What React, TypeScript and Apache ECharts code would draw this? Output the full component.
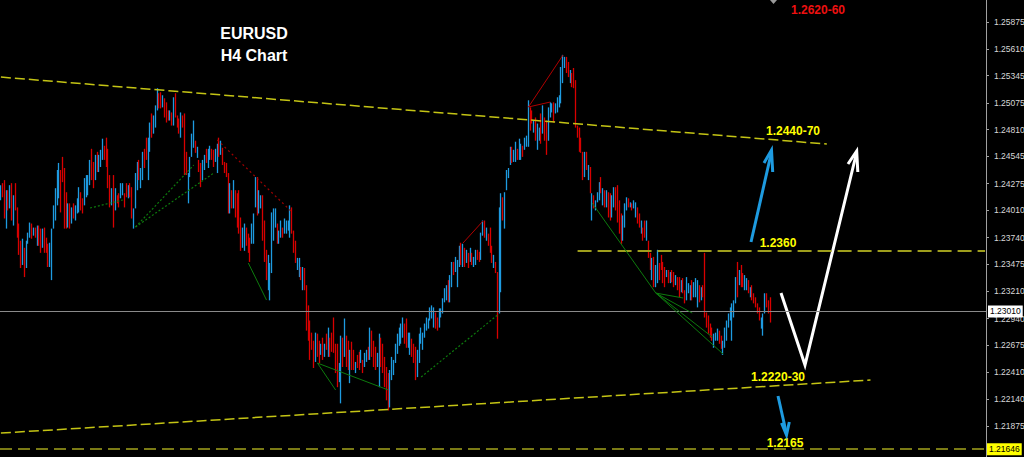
import React, { useEffect, useRef } from "react";
import * as echarts from "echarts";

// H4 candles, each [open, close, low, high] in 1e-4 price units (12413 = 1.2413)
const candlesA: number[][] = [
  [12413,12424,12411,12426],[12426,12416,12414,12428],[12426,12398,12393,12431],[12388,12416,12383,12421],[12418,12404,12401,12421],
  [12406,12423,12403,12426],[12423,12396,12391,12428],[12389,12413,12386,12416],[12424,12405,12401,12428],[12401,12377,12374,12404],
  [12384,12361,12357,12388],[12368,12347,12344,12371],[12350,12370,12347,12373],[12361,12338,12335,12364],[12347,12368,12344,12371],
  [12370,12377,12368,12379],[12376,12387,12374,12389],[12386,12375,12373,12388],[12377,12383,12376,12384],[12382,12376,12374,12384],
  [12369,12383,12366,12386],[12383,12369,12366,12386],[12380,12362,12359,12383],[12367,12380,12364,12383],[12381,12362,12359,12384],
  [12372,12361,12359,12374],[12365,12348,12345,12368],[12348,12366,12345,12369],[12348,12378,12332,12383],[12386,12403,12383,12406],
  [12395,12419,12391,12423],[12410,12437,12406,12441],[12417,12444,12413,12448],[12437,12404,12399,12441],[12451,12432,12429,12454],
  [12436,12390,12383,12443],[12415,12387,12383,12419],[12387,12405,12384,12408],[12405,12386,12383,12408],[12390,12402,12388,12404],
  [12406,12395,12393,12408],[12393,12404,12391,12406],[12400,12411,12398,12413],[12402,12421,12399,12424],[12417,12403,12401,12419],
  [12411,12400,12398,12413],[12409,12430,12406,12433],[12417,12433,12414,12436],[12418,12433,12416,12436],[12429,12448,12426,12451],
  [12458,12435,12431,12462],[12446,12426,12423,12449],[12434,12453,12431,12456],[12457,12442,12439,12459],[12441,12454,12439,12456],
  [12446,12459,12444,12461],[12454,12469,12451,12472],[12463,12453,12451,12465],[12469,12448,12444,12473],[12457,12428,12423,12462],
  [12432,12408,12404,12436],[12408,12421,12406,12423],[12430,12390,12384,12436],[12404,12420,12401,12423],[12415,12409,12408,12416],
  [12416,12406,12404,12418],[12415,12426,12413,12428],[12418,12426,12416,12428],[12416,12406,12404,12418],[12426,12416,12414,12428],
  [12415,12424,12413,12426],
];
const candlesB: number[][] = [
  [12426,12416,12414,12428],[12420,12397,12393,12424],[12386,12400,12383,12403],[12407,12434,12403,12438],[12424,12446,12421,12449],
  [12449,12433,12431,12451],[12426,12440,12423,12443],[12434,12456,12431,12459],[12460,12445,12443,12462],[12470,12454,12451,12473],
  [12436,12468,12431,12473],[12463,12484,12459,12488],[12494,12476,12473,12497],[12479,12493,12477,12495],[12486,12502,12483,12505],
  [12503,12519,12500,12522],[12515,12504,12502,12517],[12516,12504,12502,12518],[12505,12513,12503,12515],[12510,12496,12493,12512],
  [12505,12491,12488,12508],[12498,12492,12490,12500],[12492,12498,12490,12500],[12496,12487,12485,12498],[12488,12509,12485,12513],
  [12514,12496,12493,12517],[12493,12485,12483,12495],[12490,12479,12477,12492],[12476,12495,12473,12498],[12493,12485,12483,12495],
  [12492,12441,12436,12497],[12456,12439,12436,12459],[12412,12434,12408,12438],[12436,12451,12434,12454],[12457,12474,12454,12477],
  [12466,12486,12463,12490],[12468,12460,12458,12470],[12455,12462,12453,12464],[12449,12441,12439,12451],[12445,12427,12424,12448],
  [12434,12448,12431,12451],[12443,12454,12441,12456],[12460,12450,12448,12462],[12446,12459,12443,12462],[12453,12463,12451,12465],
  [12460,12453,12451,12462],[12459,12446,12444,12461],[12451,12460,12449,12462],[12442,12463,12438,12467],[12471,12457,12454,12473],
  [12458,12468,12456,12470],[12461,12448,12446,12463],[12447,12440,12438,12449],[12446,12436,12434,12448],[12433,12403,12398,12438],
  [12402,12424,12398,12428],[12419,12405,12403,12421],[12406,12428,12403,12431],[12418,12397,12394,12421],[12414,12388,12384,12418],
  [12416,12383,12378,12421],[12390,12365,12361,12394],[12367,12381,12364,12384],[12364,12385,12361,12388],[12382,12368,12366,12384],
  [12376,12361,12359,12378],[12371,12353,12350,12374],[12370,12385,12368,12388],[12372,12394,12368,12398],[12408,12430,12404,12434],
  [12429,12401,12396,12434],[12401,12418,12398,12421],[12405,12414,12403,12416],
];
const candlesC: number[][] = [
  [12411,12376,12371,12416],[12386,12355,12350,12391],[12359,12335,12332,12362],[12326,12353,12322,12357],[12320,12345,12312,12349],
  [12345,12393,12339,12399],[12375,12399,12371,12403],[12386,12401,12384,12403],[12386,12370,12368,12388],[12370,12379,12368,12381],
  [12376,12389,12374,12391],[12382,12376,12374,12384],[12380,12391,12378,12393],[12380,12389,12378,12391],[12382,12390,12381,12391],
  [12378,12402,12374,12406],[12401,12381,12378,12404],[12378,12362,12359,12381],[12368,12352,12349,12371],[12344,12352,12342,12354],
  [12337,12351,12335,12354],[12343,12334,12332,12345],[12325,12342,12322,12345],[12341,12325,12322,12344],[12324,12287,12282,12327],
  [12302,12276,12272,12307],[12287,12258,12253,12292],[12278,12265,12263,12280],[12269,12248,12245,12272],[12254,12276,12251,12280],
  [12276,12259,12256,12279],[12270,12253,12250,12272],[12260,12267,12258,12269],[12272,12256,12253,12275],[12258,12267,12256,12269],
  [12277,12265,12263,12279],[12260,12281,12256,12285],[12273,12258,12256,12275],[12278,12263,12261,12280],[12291,12264,12260,12295],
  [12265,12244,12240,12269],[12263,12232,12226,12269],[12233,12247,12231,12250],[12245,12272,12210,12277],[12272,12249,12246,12275],
  [12260,12290,12256,12294],[12274,12249,12246,12277],[12269,12246,12243,12272],[12234,12259,12230,12263],[12268,12246,12243,12271],
  [12261,12245,12243,12263],[12242,12249,12240,12251],[12256,12247,12245,12258],[12259,12245,12243,12261],[12252,12261,12250,12263],
  [12251,12242,12240,12253],[12248,12258,12246,12260],[12253,12261,12251,12263],[12264,12255,12253,12266],[12257,12281,12253,12285],
  [12279,12259,12256,12282],[12269,12249,12246,12272],[12263,12246,12243,12266],[12248,12258,12246,12260],[12232,12273,12226,12279],
  [12272,12249,12246,12275],[12266,12243,12240,12269],[12253,12230,12226,12256],[12243,12217,12213,12246],[12236,12208,12203,12240],
];
const candlesD: number[][] = [
  [12210,12240,12206,12243],[12236,12253,12233,12256],[12240,12251,12238,12253],[12252,12267,12250,12269],[12262,12276,12259,12279],
  [12269,12283,12267,12285],[12272,12286,12269,12289],[12278,12292,12275,12295],[12286,12272,12269,12289],[12290,12269,12265,12294],
  [12267,12278,12265,12280],[12261,12277,12258,12280],[12272,12258,12256,12274],[12267,12252,12250,12269],[12262,12237,12233,12266],
  [12239,12260,12236,12263],[12254,12275,12250,12279],[12271,12283,12269,12285],[12265,12278,12263,12280],[12277,12287,12275,12289],
  [12284,12293,12282,12295],[12286,12292,12284,12294],[12294,12303,12292,12305],[12296,12305,12294,12307],[12288,12302,12285,12305],
  [12298,12286,12284,12300],[12293,12284,12282,12295],[12287,12302,12285,12304],[12296,12303,12295,12304],[12301,12312,12299,12314],
  [12312,12322,12310,12324],[12314,12325,12312,12327],[12329,12313,12310,12332],[12313,12334,12310,12337],[12328,12347,12325,12350],
  [12348,12339,12337,12350],[12342,12353,12340,12355],[12329,12349,12325,12352],[12348,12363,12345,12366],[12366,12350,12347,12369],
  [12348,12365,12345,12368],[12362,12347,12345,12364],[12351,12360,12349,12362],[12357,12346,12344,12359],[12352,12362,12350,12364],
  [12357,12349,12347,12359],[12347,12353,12345,12355],[12349,12360,12347,12362],[12360,12354,12352,12362],[12358,12352,12350,12360],
  [12355,12376,12352,12379],[12378,12389,12376,12391],[12389,12377,12374,12391],[12373,12382,12371,12384],[12376,12368,12366,12378],
  [12381,12362,12359,12384],[12364,12351,12349,12366],[12346,12355,12344,12357],[12348,12341,12339,12350],[12339,12300,12274,12340],
  [12300,12398,12299,12404],[12330,12412,12320,12418],[12411,12394,12391,12414],[12394,12415,12383,12419],[12423,12438,12421,12441],
  [12435,12441,12433,12443],[12448,12461,12446,12464],[12462,12450,12448,12464],[12451,12459,12449,12461],[12452,12466,12449,12469],
  [12460,12453,12451,12462],[12454,12469,12451,12472],
];
const candlesE: number[][] = [
  [12453,12465,12451,12467],[12463,12456,12454,12465],[12463,12471,12461,12473],[12466,12473,12464,12475],[12468,12505,12464,12510],
  [12500,12483,12480,12503],[12498,12489,12487,12500],[12480,12488,12478,12490],[12490,12473,12470,12493],[12464,12484,12461,12487],
  [12472,12481,12470,12483],[12493,12471,12467,12497],[12481,12501,12477,12505],[12490,12473,12470,12493],[12486,12461,12456,12490],
  [12474,12499,12470,12503],[12495,12506,12493,12508],[12499,12505,12498,12507],[12506,12490,12488,12508],[12498,12505,12497,12507],
  [12500,12511,12498,12513],[12505,12513,12503,12515],[12510,12539,12507,12543],[12530,12551,12527,12555],[12544,12551,12542,12553],
  [12551,12539,12537,12553],[12546,12535,12533,12548],[12529,12538,12527,12540],[12535,12525,12523,12537],[12539,12525,12522,12542],
  [12526,12487,12483,12530],[12483,12475,12473,12485],[12480,12462,12459,12483],[12471,12460,12458,12473],[12456,12434,12431,12459],
  [12437,12456,12434,12459],[12457,12443,12441,12459],[12433,12444,12431,12446],[12441,12421,12418,12444],[12394,12415,12391,12418],
  [12414,12405,12403,12416],[12403,12409,12401,12411],[12411,12417,12409,12419],[12413,12426,12411,12429],[12432,12420,12418,12434],
  [12408,12421,12406,12423],[12419,12406,12404,12421],[12406,12419,12404,12421],[12416,12397,12394,12419],[12415,12394,12391,12418],
  [12397,12413,12394,12416],[12407,12421,12404,12424],[12421,12404,12401,12424],[12422,12393,12389,12426],[12407,12382,12378,12411],
  [12394,12372,12368,12398],[12374,12392,12371,12396],[12387,12405,12384,12408],[12403,12412,12401,12414],[12412,12405,12404,12413],
  [12405,12408,12404,12409],[12407,12402,12401,12408],[12404,12410,12403,12411],[12396,12407,12394,12409],[12402,12390,12388,12404],
  [12396,12386,12384,12398],[12380,12389,12378,12391],[12382,12373,12371,12384],[12389,12376,12374,12391],[12374,12388,12371,12391],
  [12369,12356,12354,12371],[12357,12344,12342,12359],
];
const candlesF: number[][] = [
  [12335,12351,12332,12354],[12352,12329,12325,12355],[12328,12344,12325,12347],[12333,12345,12329,12362],[12347,12334,12332,12349],
  [12355,12344,12342,12357],[12347,12332,12329,12350],[12343,12327,12325,12345],[12336,12341,12335,12342],[12340,12331,12329,12342],
  [12331,12338,12329,12340],[12340,12332,12330,12342],[12338,12327,12325,12340],[12329,12335,12327,12337],[12333,12324,12322,12335],
  [12332,12318,12315,12335],[12322,12330,12320,12332],[12332,12321,12319,12334],[12320,12311,12309,12322],[12315,12332,12312,12335],
  [12321,12327,12319,12329],[12314,12325,12312,12327],[12329,12315,12312,12332],[12317,12328,12315,12330],[12318,12331,12315,12334],
  [12309,12329,12305,12332],[12325,12312,12310,12327],[12314,12323,12312,12325],[12325,12317,12315,12327],[12318,12299,12295,12359],
  [12298,12287,12285,12300],[12295,12282,12279,12297],[12287,12277,12275,12289],[12283,12274,12272,12285],[12267,12277,12265,12279],
  [12273,12279,12272,12280],[12274,12282,12272,12284],[12280,12271,12269,12282],[12275,12266,12264,12277],[12260,12270,12258,12272],
  [12268,12282,12265,12285],[12275,12289,12272,12292],[12287,12297,12285,12299],[12294,12303,12292,12305],[12290,12306,12272,12309],
  [12297,12310,12295,12312],[12311,12332,12309,12335],[12346,12320,12315,12350],[12329,12340,12327,12342],[12344,12328,12325,12347],
  [12337,12327,12325,12339],[12324,12335,12322,12337],[12324,12332,12322,12334],[12330,12321,12319,12332],[12317,12323,12315,12325],
  [12325,12314,12312,12327],[12317,12311,12309,12319],[12313,12307,12305,12315],[12307,12301,12299,12309],[12303,12294,12292,12305],
  [12286,12293,12284,12295],[12281,12296,12277,12299],[12301,12316,12299,12319],[12317,12307,12305,12319],[12310,12301,12299,12312],
  [12310,12301,12290,12315],
];

const priceScale = 10000;
const futureSlots = 118;

const priceTicks = [
  1.25875, 1.2561, 1.25345, 1.25075, 1.2481, 1.24545, 1.24275, 1.2401,
  1.2374, 1.23475, 1.2321, 1.2294, 1.22675, 1.2241, 1.2214, 1.21875,
];
const axisMin = 1.21569;
const axisMax = 1.26093;

const currentPrice = 1.2301;
const bottomLevel = 1.21646;
const level2360 = 1.23608;
const level2360Start = 317;

// trend lines: [[categoryIndex, price], [categoryIndex, price]]
const channelUpper = [[0, 1.2533], [454, 1.24667]];
const channelLower = [[0, 1.21806], [478, 1.22331]];
const greenDotted = [
  [[49, 1.24034], [67, 1.24113]],
  [[74, 1.23846], [106, 1.24459]],
  [[74, 1.23846], [117, 1.2438]],
  [[231, 1.22361], [273, 1.22974]],
];
const greenSolid = [
  [[136, 1.23489], [146, 1.23123]],
  [[174, 1.22499], [184, 1.22232]],
  [[174, 1.22499], [213, 1.22232]],
  [[325, 1.24083], [360, 1.23192]],
  [[360, 1.23192], [375, 1.23143]],
  [[360, 1.23192], [380, 1.22994]],
  [[360, 1.23192], [391, 1.22757]],
  [[360, 1.23192], [397, 1.22588]],
];
const redDotted = [[[119, 1.24707], [160, 1.23994]]];
const redSolid = [
  [[254, 1.23687], [265, 1.23905]],
  [[290, 1.25034], [309, 1.25548]],
  [[290, 1.25034], [302, 1.25083]],
];

const title = ["EURUSD", "H4 Chart"];
const targetLabels = [
  { text: "1.2620-60", color: "#ee1010", x: 818, y: 10 },
  { text: "1.2440-70", color: "#ffff00", x: 793, y: 131 },
  { text: "1.2360", color: "#ffff00", x: 778, y: 243 },
  { text: "1.2220-30", color: "#ffff00", x: 778, y: 377 },
  { text: "1.2165", color: "#ffff00", x: 785, y: 443 },
];

export default function App() {
  const ref = useRef<HTMLDivElement>(null);

  useEffect(() => {
    const el = ref.current;
    if (!el) return;
    const chart = echarts.init(el, null, { renderer: "svg" });

    const candles = [...candlesA, ...candlesB, ...candlesC, ...candlesD, ...candlesE, ...candlesF].map((c) =>
      c.map((v) => v / priceScale)
    );
    const total = candles.length + futureSlots;
    const categories = Array.from({ length: total }, (_, i) => String(i));

    const seg = (pts: number[][], style: any) => [
      { coord: pts[0], lineStyle: style },
      { coord: pts[1] },
    ];
    const chStyle = { color: "#c4c414", width: 1.5, type: [10, 4] };
    const gDot = { color: "#0d7a0d", width: 1.2, type: [2, 2] };
    const gSol = { color: "#0d7a0d", width: 1, type: "solid" };
    const rDot = { color: "#a00000", width: 1.2, type: [2, 3] };
    const rSol = { color: "#b00000", width: 1, type: "solid" };

    const labelFont = '"Liberation Sans", Arial, sans-serif';

    const markData: any[] = [
      seg(channelUpper, chStyle),
      seg(channelLower, chStyle),
      [
        { coord: [level2360Start, level2360], lineStyle: { color: "#9e9e1c", width: 2, type: [14, 6] } },
        { coord: [total - 1, level2360] },
      ],
      {
        yAxis: currentPrice,
        lineStyle: { color: "#8a8a8a", width: 1, type: "solid" },
        label: {
          show: true,
          position: "end",
          formatter: currentPrice.toFixed(5),
          color: "#000",
          backgroundColor: "#ffffff",
          padding: [2, 2, 1, 2],
          fontSize: 8.5,
          fontFamily: labelFont,
          distance: 2,
        },
      },
      {
        yAxis: bottomLevel,
        lineStyle: { color: "#a4a41c", width: 1.5, type: [12, 6] },
        label: {
          show: true,
          position: "end",
          formatter: bottomLevel.toFixed(5),
          color: "#000",
          backgroundColor: "#ffff00",
          padding: [2, 2, 1, 2],
          fontSize: 8.5,
          fontFamily: labelFont,
          distance: 1,
        },
      },
      ...greenDotted.map((p) => seg(p, gDot)),
      ...greenSolid.map((p) => seg(p, gSol)),
      ...redDotted.map((p) => seg(p, rDot)),
      ...redSolid.map((p) => seg(p, rSol)),
    ];

    const blue = "#1e9be0";
    const graphic: any[] = [
      ...title.map((t, i) => ({
        type: "text",
        x: 254,
        y: 33 + i * 22,
        style: { text: t, fill: "#ffffff", font: `bold 16px ${labelFont}`, align: "center", verticalAlign: "middle" },
      })),
      ...targetLabels.map((l) => ({
        type: "text",
        x: l.x,
        y: l.y,
        style: { text: l.text, fill: l.color, font: `bold 12px ${labelFont}`, align: "center", verticalAlign: "middle" },
      })),
      { type: "line", shape: { x1: 751, y1: 242, x2: 771.5, y2: 152 }, style: { stroke: blue, lineWidth: 3 } },
      { type: "polyline", shape: { points: [[764, 163], [771.5, 150], [772.7, 172]] }, style: { stroke: blue, lineWidth: 3, fill: null } },
      { type: "polyline", shape: { points: [[781, 293], [805, 365], [856.5, 153]] }, style: { stroke: "#ffffff", lineWidth: 3, fill: null } },
      { type: "polyline", shape: { points: [[848, 164], [856.7, 151], [857.8, 172]] }, style: { stroke: "#ffffff", lineWidth: 3, fill: null } },
      { type: "line", shape: { x1: 778, y1: 396, x2: 786.3, y2: 433 }, style: { stroke: blue, lineWidth: 3 } },
      { type: "polyline", shape: { points: [[781.5, 423], [786.5, 435], [789.3, 422]] }, style: { stroke: blue, lineWidth: 3, fill: null } },
      { type: "polygon", shape: { points: [[770, 0], [777, 0], [773.5, 4]] }, style: { fill: "#9a9a9a" } },
    ];

    chart.setOption({
      animation: false,
      backgroundColor: "#000000",
      grid: { left: 0, right: 38, top: 0, bottom: 0, containLabel: false, outerBoundsMode: "none" },
      xAxis: {
        type: "category",
        data: categories,
        boundaryGap: true,
        show: false,
      },
      yAxis: {
        type: "value",
        position: "right",
        min: axisMin,
        max: axisMax,
        axisLine: { show: true, lineStyle: { color: "#a0a0a0", width: 1 } },
        axisTick: { show: true, customValues: priceTicks, length: 3, lineStyle: { color: "#a0a0a0" } },
        axisLabel: {
          customValues: priceTicks,
          formatter: (v: number) => v.toFixed(5),
          color: "#d8d8d8",
          fontSize: 8.5,
          fontFamily: labelFont,
          margin: 8,
        },
        splitLine: { show: false },
      },
      series: [
        {
          type: "candlestick",
          data: candles,
          barWidth: 1.2,
          clip: false,
          silent: true,
          itemStyle: {
            color: blue,
            color0: "#d80000",
            borderColor: blue,
            borderColor0: "#d80000",
            borderWidth: 1.3,
          },
          markLine: {
            silent: true,
            symbol: ["none", "none"],
            animation: false,
            precision: 5,
            label: { show: false },
            emphasis: { disabled: true },
            data: markData,
          },
        },
      ],
      graphic,
    });

    return () => chart.dispose();
  }, []);

  return (
    <div
      ref={ref}
      style={{ position: "fixed", left: 0, top: 0, width: 1024, height: 457, background: "#000" }}
    />
  );
}
